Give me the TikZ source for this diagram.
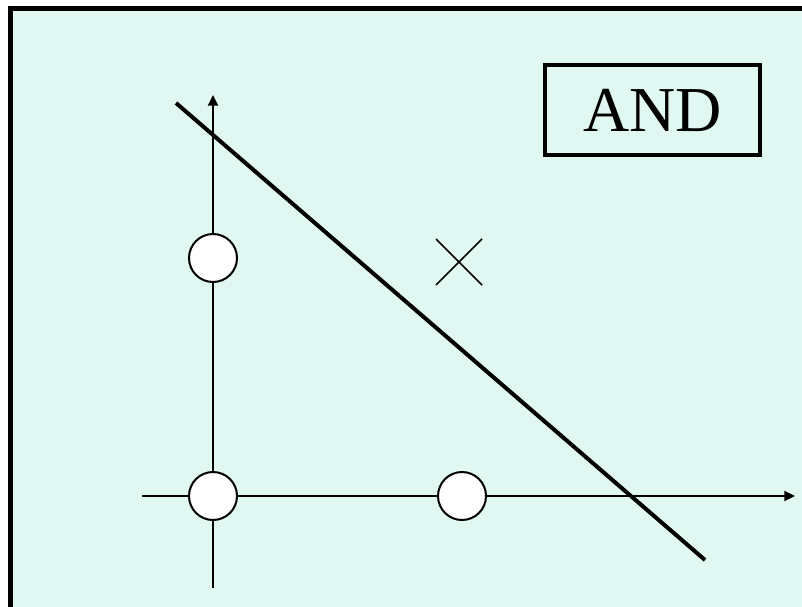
\documentclass[tikz,border=0pt]{standalone}
\usepackage{fontspec}
\setmainfont{Liberation Serif}
\usetikzlibrary{arrows.meta,calc}
\definecolor{panel}{HTML}{E0F8F1}

\begin{document}
\begin{tikzpicture}[
  x=0.75pt, y=-0.75pt,
  line cap=butt, line join=miter,
  every node/.style={inner sep=0pt},
  frame/.style={draw=black, line width=3.8pt},
  axis/.style={draw=black, line width=1.5pt, -{Triangle[length=8pt, width=7.5pt]}},
  sep/.style={draw=black, line width=3pt},
  cross/.style={draw=black, line width=1.2pt},
  pt/.style={circle, draw=black, fill=white, line width=1.5pt, minimum size=36pt},
  label/.style={draw=black, line width=3pt, minimum width=161pt, minimum height=68pt, font=\fontsize{48}{52}\selectfont},
]
\useasboundingbox (0,0) rectangle (802,606);
\begin{scope}
\clip (0,0) rectangle (802,606);
\filldraw[frame, fill=panel] (10.5,8.5) rectangle (830,630);
\end{scope}
% axes
\coordinate (ybot) at (213,588);
\coordinate (ytop) at (213,95);
\coordinate (xleft) at (142,496);
\coordinate (xright) at (795,496);
\draw[axis] (ybot) -- (ytop);
\draw[axis] (xleft) -- (xright);
% points
\node[pt] (p00) at (213,496) {};
\node[pt] (p01) at (213,258) {};
\node[pt] (p10) at (462,496) {};
% separating line
\coordinate (sa) at (176,103);
\coordinate (sb) at (705,560);
\draw[sep] (sa) -- (sb);
% the (1,1) point
\coordinate (c) at (459,262);
\draw[cross] ($(c)+(-23,-23)$) -- ($(c)+(23,23)$);
\draw[cross] ($(c)+(23,-23)$) -- ($(c)+(-23,23)$);
\node[label] (gate) at (652.5,110) {AND};
\end{tikzpicture}
\end{document}
